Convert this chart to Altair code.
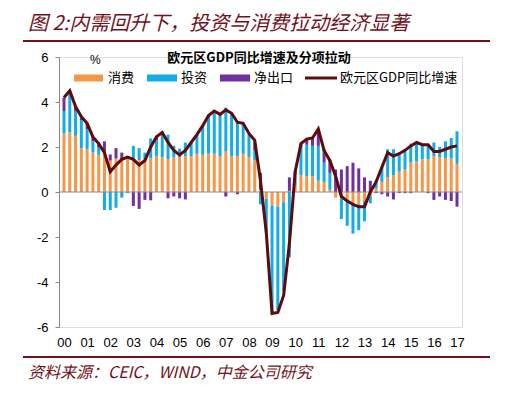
import altair as alt
import pandas as pd

# ---------------- data ----------------
year_labels = ["00", "01", "02", "03", "04", "05", "06", "07", "08",
               "09", "10", "11", "12", "13", "14", "15", "16", "17"]

series_names = ["消费", "投资", "净出口"]
line_name = "欧元区GDP同比增速"

# quarterly, 2000Q1 .. 2017Q1
gdp = [4.2, 4.5, 3.8, 3.35,
       3.05, 2.45, 2.15, 1.75,
       0.9, 1.2, 1.45, 1.55,
       1.45, 1.2, 1.4, 2.0,
       2.45, 2.65, 2.2, 1.85,
       1.65, 1.85, 2.2, 2.55,
       2.95, 3.4, 3.6, 3.45,
       3.65, 3.5, 3.1, 3.05,
       2.6, 2.3, 0.5, -1.8,
       -5.4, -5.35, -4.6, -2.3,
       0.9, 2.15, 2.35, 2.4,
       2.8, 1.85, 1.4, 0.7,
       -0.2, -0.4, -0.55, -0.65,
       -0.65, 0.0, 0.45, 1.1,
       1.75, 1.6, 1.7, 1.85,
       2.05, 2.2, 2.1, 2.1,
       1.8, 1.8, 1.9, 2.0,
       2.05]

consumption = [2.6, 2.65, 2.5, 1.95,
               1.9, 1.75, 1.65, 1.8,
               1.4, 1.5, 1.45, 1.5,
               1.45, 1.4, 1.4, 1.5,
               1.6, 1.55, 1.45, 1.55,
               1.55, 1.6, 1.6, 1.7,
               1.65, 1.7, 1.7, 1.6,
               1.8, 1.6, 1.6, 1.7,
               1.55, 1.4, 0.1, -0.3,
               -0.6, -0.65, -0.45, 0.05,
               0.3, 0.75, 0.7, 0.7,
               0.5, 0.45, 0.1, -0.25,
               -0.3, -0.4, -0.5, -0.55,
               -0.4, -0.15, 0.15, 0.45,
               0.65, 0.75, 0.9, 1.0,
               1.3, 1.35, 1.45, 1.45,
               1.6, 1.55, 1.5, 1.5,
               1.25]

investment = [1.0, 1.75, 1.1, 1.25,
              0.9, 0.5, 0.35, -0.8,
              -0.8, -0.7, -0.25, -0.05,
              0.6, 0.55, 0.35, 0.88,
              0.7, 0.95, 1.1, 0.5,
              0.38, 0.6, 0.55, 0.8,
              1.25, 1.6, 1.8, 1.8,
              1.95, 1.85, 1.55, 1.35,
              0.95, 0.45, -0.55, -1.5,
              -4.8, -4.6, -3.95, -2.9,
              0.5, 1.2, 1.4, 1.35,
              1.55, 0.85, 0.75, 0.0,
              -0.9, -1.1, -1.35, -1.15,
              -0.9, -0.35, 0.35, 0.65,
              1.25, 1.15, 0.8, 0.9,
              0.85, 0.8, 0.65, 0.6,
              0.6, 0.45, 0.75, 0.9,
              1.45]

net_exports = [0.6, 0.1, 0.2, 0.15,
               0.25, 0.2, 0.2, 0.45,
               0.27, 0.45, 0.3, 0.05,
               -0.62, -0.75, -0.35, -0.37,
               0.12, 0.15, -0.28, -0.2,
               -0.28, -0.33, 0.05, 0.05,
               0.05, 0.1, 0.1, 0.05,
               -0.2, 0.05, -0.1, 0.0,
               0.05, 0.35, 0.75, 0.0,
               0.0, 0.0, 0.0, 0.6,
               0.1, 0.2, 0.25, 0.4,
               0.75, 0.6, 0.6, 1.0,
               1.0, 1.15, 1.3, 1.05,
               0.65, 0.5, -0.05, -0.1,
               -0.2, -0.33, -0.05, -0.05,
               -0.05, 0.05, 0.0, -0.05,
               -0.35, -0.2, -0.35, -0.4,
               -0.65]

colors = ["#F79646", "#12ACE8", "#7030A0"]
line_color = "#5E0B0B"
brand = "#74101A"

# ---------------- tables ----------------
n = len(gdp)
rows = []
for k, (name, vals) in enumerate(zip(series_names, [consumption, investment, net_exports])):
    for i in range(n):
        rows.append({"t": i, "series": name, "value": vals[i], "ord": k})
bars_df = pd.DataFrame(rows)
line_df = pd.DataFrame({"t": list(range(n)), "gdp": gdp})
one = pd.DataFrame({"a": [0]})

W, H = 403, 270
cjk = "Noto Sans CJK SC"
latin = "Liberation Sans"

x_scale = alt.Scale(domain=[0, n - 1], nice=False, zero=False)
y_scale = alt.Scale(domain=[-6, 6], nice=False)
label_expr = "[" + ",".join("'%s'" % s for s in year_labels) + "][round(datum.value/4)]"

x_axis = alt.Axis(values=list(range(0, n, 4)), labelExpr=label_expr,
                  domain=False, ticks=False, grid=False, title=None,
                  labelFont=latin, labelFontSize=13, labelColor="#000",
                  labelPadding=9, labelOverlap=False, labelFlush=False,
                  labelBound=False, labelSeparation=0)
y_axis = alt.Axis(values=[-6, -4, -2, 0, 2, 4, 6], labelExpr="'' + datum.value",
                  grid=False, title=None, domainColor="#888", tickColor="#888",
                  tickSize=4, labelFont=latin, labelFontSize=13,
                  labelColor="#000", labelPadding=7, labelFlush=False,
                  labelOverlap=False)

bars = alt.Chart(bars_df).mark_bar(size=3).encode(
    x=alt.X("t:Q", scale=x_scale, axis=x_axis),
    y=alt.Y("value:Q", stack="zero", scale=y_scale, axis=y_axis),
    color=alt.Color("series:N", scale=alt.Scale(domain=series_names, range=colors), legend=None),
    order=alt.Order("ord:Q"),
)

zero = alt.Chart(one).mark_rule(color="#8c8c8c", strokeWidth=1).encode(
    y=alt.Y(datum=0, scale=y_scale, axis=y_axis))

line = alt.Chart(line_df).mark_line(color=line_color, strokeWidth=3).encode(
    x=alt.X("t:Q", scale=x_scale, axis=x_axis),
    y=alt.Y("gdp:Q", scale=y_scale, axis=y_axis))


def txt(s, x, y, size, color="#000", weight="normal", style="normal", font=cjk, align="left"):
    return alt.Chart(one).mark_text(text=s, align=align, baseline="middle", fontSize=size,
                                    color=color, fontWeight=weight, fontStyle=style,
                                    font=font).encode(x=alt.value(x), y=alt.value(y))


def hrule(x1, x2, y, color, width):
    return alt.Chart(one).mark_rule(color=color, strokeWidth=width).encode(
        x=alt.value(x1), x2=alt.value(x2), y=alt.value(y))


header = txt("图 2:内需回升下，投资与消费拉动经济显著", -31, -33, 20, color=brand, style="italic")
top_line = hrule(-36, 431, -16, brand, 2)
bottom_line = hrule(-36, 431, 300, brand, 2)
source = txt("资料来源：CEIC，WIND，中金公司研究", -31, 316, 16, color=brand, style="italic")
title = txt("欧元区GDP同比增速及分项拉动", 200, 1, 13, weight="bold", align="center")
pct = txt("%", 31, 3, 12, font=latin)

legend_layers = [
    hrule(15, 44, 21, colors[0], 7), txt(series_names[0], 49, 21, 13),
    hrule(88, 118, 21, colors[1], 7), txt(series_names[1], 122, 21, 13),
    hrule(161, 191, 21, colors[2], 7), txt(series_names[2], 195, 21, 13),
    hrule(246, 278, 21, line_color, 3), txt(line_name, 281, 21, 13),
]

chart = alt.layer(bars, zero, line, header, top_line, bottom_line, source, title, pct,
                  *legend_layers).properties(
    width=W, height=H,
    autosize=alt.AutoSizeParams(type="none"),
    padding={"left": 51, "top": 49, "right": 40, "bottom": 58},
).configure_view(stroke=None).configure(background="white")

chart.save("out.html", embed_options={"renderer": "svg", "actions": False})
